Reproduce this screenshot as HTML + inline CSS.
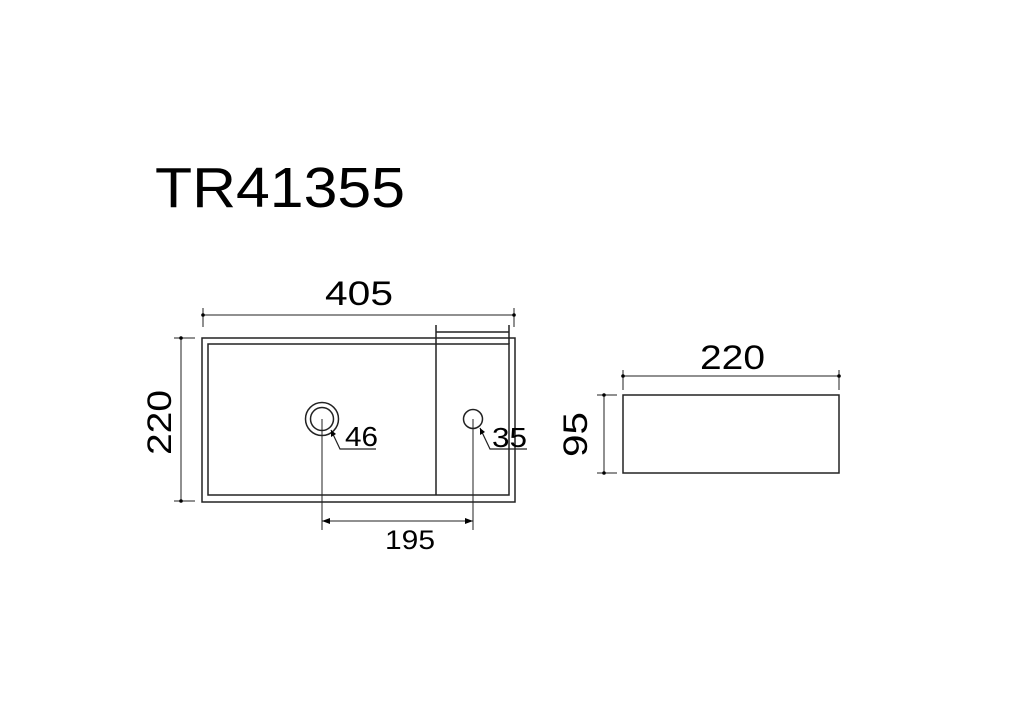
<!DOCTYPE html>
<html><head><style>body{margin:0;background:#fff}svg{display:block}text{font-family:"Liberation Sans",sans-serif;fill:#000}</style></head><body>
<svg width="1024" height="705" viewBox="0 0 1024 705" xmlns="http://www.w3.org/2000/svg">
<g stroke="#222" fill="none" stroke-width="1.5">
<rect x="202" y="338" width="313" height="164"/>
<rect x="208" y="344" width="301" height="151"/>
<line x1="436" y1="325" x2="436" y2="495"/>
<line x1="436" y1="332" x2="509" y2="332"/>
<line x1="509" y1="325" x2="509" y2="344"/>
<circle cx="322" cy="419" r="16.5"/>
<circle cx="322" cy="419" r="11.5"/>
<circle cx="473" cy="419" r="9.5"/>
<polyline points="331,430 340,449 376,449" stroke-width="1.2"/>
<polyline points="480,428 490,449 527,449" stroke-width="1.2"/>
<g stroke-width="1">
<line x1="203" y1="315" x2="514" y2="315"/>
<line x1="203" y1="308" x2="203" y2="327"/>
<line x1="514" y1="308" x2="514" y2="327"/>
<line x1="181" y1="338" x2="181" y2="501"/>
<line x1="174" y1="338" x2="195" y2="338"/>
<line x1="174" y1="501" x2="195" y2="501"/>
<line x1="322" y1="419" x2="322" y2="530"/>
<line x1="473" y1="419" x2="473" y2="530"/>
<line x1="322" y1="521" x2="473" y2="521"/>
<line x1="623" y1="376" x2="839" y2="376"/>
<line x1="623" y1="370" x2="623" y2="390"/>
<line x1="839" y1="370" x2="839" y2="390"/>
<line x1="604" y1="395" x2="604" y2="473"/>
<line x1="597" y1="395" x2="617" y2="395"/>
<line x1="597" y1="473" x2="617" y2="473"/>
</g>
<rect x="623" y="395" width="216" height="78"/>
</g>
<g fill="#000">
<circle cx="203" cy="315" r="1.8"/><circle cx="514" cy="315" r="1.8"/>
<circle cx="181" cy="338" r="1.8"/><circle cx="181" cy="501" r="1.8"/>
<circle cx="623" cy="376" r="1.8"/><circle cx="839" cy="376" r="1.8"/>
<circle cx="604" cy="395" r="1.8"/><circle cx="604" cy="473" r="1.8"/>
<polygon points="322,521 330,518 330,524"/><polygon points="473,521 465,518 465,524"/>
<polygon points="331,430 331,437 336,434"/><polygon points="480,428 480,435 485,432"/>
</g>
<text x="155" y="207" font-size="57" textLength="250" lengthAdjust="spacingAndGlyphs">TR41355</text>
<text x="325" y="305" font-size="34" textLength="68" lengthAdjust="spacingAndGlyphs">405</text>
<text transform="translate(171,455) rotate(-90)" font-size="34" textLength="65" lengthAdjust="spacingAndGlyphs">220</text>
<text x="345" y="446" font-size="28" textLength="33" lengthAdjust="spacingAndGlyphs">46</text>
<text x="492" y="447" font-size="28" textLength="35" lengthAdjust="spacingAndGlyphs">35</text>
<text x="385" y="549" font-size="27" textLength="50" lengthAdjust="spacingAndGlyphs">195</text>
<text x="700" y="369" font-size="34" textLength="65" lengthAdjust="spacingAndGlyphs">220</text>
<text transform="translate(587,457) rotate(-90)" font-size="34" textLength="45" lengthAdjust="spacingAndGlyphs">95</text>
</svg>
</body></html>
